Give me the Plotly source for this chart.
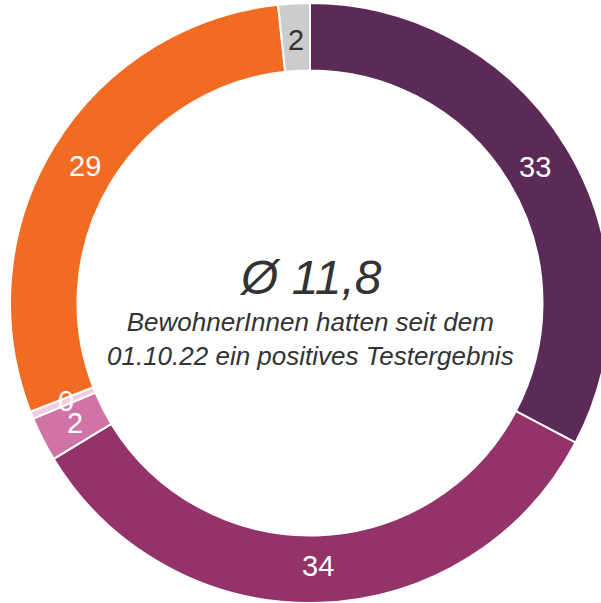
import math
import plotly.graph_objects as go

# Slice shares in percent, clockwise from 12 o'clock (labels show rounded values)
values = [32.7, 33.6, 2.4, 0.4, 29.2, 1.7]
colors = ["#5c2a56", "#93336a", "#d074a8", "#f2cde0", "#f26b22", "#cccccc"]
label_colors = ["white", "white", "white", "white", "white", "#333333"]

avg_text = "Ø 11,8"
sub_text = "BewohnerInnen hatten seit dem<br>01.10.22 ein positives Testergebnis"

W, H = 620, 603
dom_y = [0.0, 600 / 603]
hole = 0.775
FONT = "Liberation Sans, Arial, sans-serif"

fig = go.Figure(
    go.Pie(
        values=values,
        marker=dict(colors=colors, line=dict(color="white", width=2)),
        hole=hole,
        sort=False,
        direction="clockwise",
        rotation=0,
        textinfo="none",
        hoverinfo="skip",
        domain=dict(x=[0, 1], y=dom_y),
        showlegend=False,
    )
)

# Place slice labels at the middle of each ring segment
cx_px = W / 2
cy_px = H - (dom_y[0] + dom_y[1]) / 2 * H
r_out = min(W, (dom_y[1] - dom_y[0]) * H) / 2
r_lab = r_out * (1 + hole) / 2 - 3
total = sum(values)
acc = 0.0
for v, c in zip(values, label_colors):
    mid = (acc + v / 2) / total * 2 * math.pi
    acc += v
    px = cx_px + r_lab * math.sin(mid)
    py = cy_px - r_lab * math.cos(mid)
    fig.add_annotation(
        x=px / W, y=1 - py / H, xref="paper", yref="paper",
        text=f"{v:.0f}", showarrow=False,
        font=dict(family=FONT, size=29, color=c),
        xanchor="center", yanchor="middle",
    )

fig.add_annotation(
    x=0.5, y=1 - 277 / H, xref="paper", yref="paper",
    text=f"<i>{avg_text}</i>", showarrow=False,
    font=dict(family=FONT, size=48, color="#333333"),
    xanchor="center", yanchor="middle",
)
fig.add_annotation(
    x=0.5, y=1 - 339 / H, xref="paper", yref="paper",
    text=f"<i>{sub_text}</i>", showarrow=False,
    font=dict(family=FONT, size=26, color="#333333"),
    xanchor="center", yanchor="middle",
)

fig.update_layout(
    width=W, height=H,
    margin=dict(l=0, r=0, t=0, b=0),
    paper_bgcolor="white", plot_bgcolor="white",
)

fig.write_html(
    "out.html",
    post_script="document.documentElement.style.overflow='hidden';document.body.style.overflow='hidden';document.body.style.margin='0';",
)
